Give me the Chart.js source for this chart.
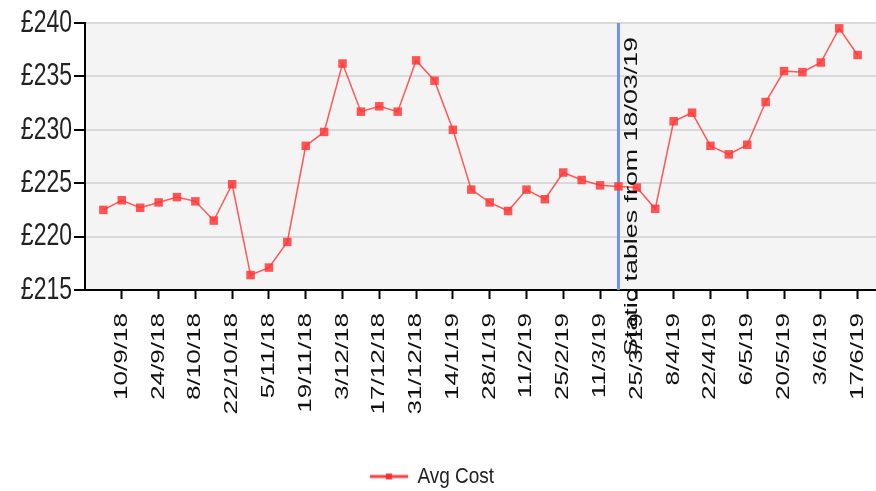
<!DOCTYPE html>
<html>
<head>
<meta charset="utf-8">
<script src="https://cdn.jsdelivr.net/npm/chart.js@4/dist/chart.umd.min.js"></script>
<style>
html,body{margin:0;padding:0;background:#fff;}
#wrap{width:876px;height:491px;position:relative;}
</style>
</head>
<body>
<div id="wrap"><canvas id="c" width="876" height="491"></canvas></div>
<script>
const weeks = ['3/9/18','10/9/18','17/9/18','24/9/18','1/10/18','8/10/18','15/10/18','22/10/18','29/10/18','5/11/18',
  '12/11/18','19/11/18','26/11/18','3/12/18','10/12/18','17/12/18','24/12/18','31/12/18','7/1/19','14/1/19',
  '21/1/19','28/1/19','4/2/19','11/2/19','18/2/19','25/2/19','4/3/19','11/3/19','18/3/19','25/3/19',
  '1/4/19','8/4/19','15/4/19','22/4/19','29/4/19','6/5/19','13/5/19','20/5/19','27/5/19','3/6/19',
  '10/6/19','17/6/19'];
const avgCost = [222.5,223.4,222.7,223.2,223.7,223.3,221.5,224.9,216.4,217.1,
  219.5,228.5,229.8,236.2,231.7,232.2,231.7,236.5,234.6,230.0,
  224.4,223.2,222.4,224.4,223.5,226.0,225.3,224.8,224.7,224.6,
  222.6,230.8,231.6,228.5,227.7,228.6,232.6,235.5,235.4,236.3,
  239.5,237.0];
const yTicks = [215,220,225,230,235,240];
const seriesName = 'Avg Cost';
const markerLabel = 'Static tables from 18/03/19';
const markerIndex = 28;

const RED = '#ff4646';
const FONT = '"Liberation Sans", Arial, sans-serif';

// legend marker: line with a small square
const legendMark = document.createElement('canvas');
legendMark.width = 38; legendMark.height = 10;
(function(){
  const g = legendMark.getContext('2d');
  g.fillStyle = 'rgba(255,40,40,0.9)';
  g.fillRect(0, 3.5, 38, 3);
  g.fillRect(16, 2, 6, 6);
})();

// draw text stretched (the reference's text is stretched vertically)
function stretchText(ctx, kx, ky, fn) {
  const orig = CanvasRenderingContext2D.prototype.fillText;
  ctx.fillText = function (t, x, y) {
    this.save();
    this.translate(x, y);
    this.scale(kx, ky);
    orig.call(this, t, 0, 0);
    this.restore();
  };
  try { fn(); } finally { delete ctx.fillText; }
}

const stretchPlugin = {
  id: 'stretch',
  beforeDraw(chart) {
    const ctx = chart.ctx;
    const y = chart.scales.y, x = chart.scales.x, lg = chart.legend;
    if (!y._wrapped) {
      const o = y.drawLabels.bind(y);
      y.drawLabels = (a) => stretchText(ctx, 1, 1.4, () => o(a));
      y._wrapped = true;
    }
    if (!x._wrapped) {
      const o = x.drawLabels.bind(x);
      x.drawLabels = (a) => stretchText(ctx, 1.45, 1, () => o(a));
      x._wrapped = true;
    }
    if (lg && !lg._wrapped) {
      const o = lg.draw.bind(lg);
      lg.draw = (a) => {
        ctx.save();
        ctx.translate(-6, 0);
        stretchText(ctx, 1, 1.15, () => o(a));
        ctx.restore();
      };
      lg._wrapped = true;
    }
  }
};

const bgPlugin = {
  id: 'bg',
  beforeDraw(chart) {
    const {ctx, chartArea: a} = chart;
    ctx.save();
    ctx.fillStyle = '#f4f4f4';
    ctx.fillRect(a.left, a.top, a.right - a.left, a.bottom - a.top);
    ctx.restore();
  }
};
const markerPlugin = {
  id: 'marker',
  beforeDatasetsDraw(chart) {
    const {ctx, chartArea: a, scales} = chart;
    const x = scales.x.getPixelForValue(markerIndex);
    ctx.save();
    ctx.strokeStyle = '#6a98e6';
    ctx.lineWidth = 3;
    ctx.beginPath();
    ctx.moveTo(x, a.top);
    ctx.lineTo(x, a.bottom);
    ctx.stroke();
    ctx.restore();
  },
  afterDraw(chart) {
    const {ctx, chartArea: a, scales} = chart;
    const x = scales.x.getPixelForValue(markerIndex);
    ctx.save();
    ctx.font = '18px ' + FONT;
    const w = ctx.measureText(markerLabel).width;
    const startY = a.bottom + 66, endY = a.top + 14;
    const k = (startY - endY) / w;
    ctx.translate(x + 14, startY);
    ctx.rotate(-Math.PI / 2);
    ctx.scale(k, 1);
    ctx.fillStyle = '#111';
    ctx.textAlign = 'left';
    ctx.textBaseline = 'middle';
    ctx.fillText(markerLabel, 0, 0);
    ctx.restore();
  }
};

new Chart(document.getElementById('c'), {
  type: 'line',
  data: {
    datasets: [{
      label: seriesName,
      data: avgCost.map((v, i) => ({x: i, y: v})),
      borderColor: 'rgba(255,70,70,0.9)',
      borderWidth: 1.5,
      pointStyle: 'rect',
      pointRadius: 6,
      pointHoverRadius: 6,
      pointBackgroundColor: 'rgba(255,55,55,0.85)',
      pointBorderWidth: 0,
      tension: 0
    }]
  },
  options: {
    responsive: false,
    animation: false,
    layout: {autoPadding: false, padding: {top: 23, right: 0, bottom: -5, left: 0}},
    plugins: {
      tooltip: {enabled: false},
      legend: {
        position: 'bottom',
        labels: {
          usePointStyle: true,
          pointStyleWidth: 38,
          padding: 10,
          color: '#222',
          font: {family: FONT, size: 19},
          generateLabels: () => [{
            text: seriesName, pointStyle: legendMark, fillStyle: RED, strokeStyle: RED,
            lineWidth: 0, hidden: false, datasetIndex: 0, fontColor: '#222'
          }]
        }
      }
    },
    scales: {
      x: {
        type: 'linear',
        min: -1,
        max: 42,
        afterBuildTicks: (s) => { s.ticks = weeks.map((w, i) => i).filter(i => i % 2 === 1).map(v => ({value: v})); },
        afterFit: (s) => { s.height = 167; s.paddingLeft = 0; s.paddingRight = 0; },
        grid: {drawOnChartArea: false, tickColor: '#000', tickLength: 9, tickWidth: 2},
        border: {display: true, color: '#000', width: 2},
        ticks: {
          autoSkip: false, maxRotation: 90, minRotation: 90, padding: 14,
          color: '#111',
          font: {family: FONT, size: 18},
          callback: (v) => weeks[v] ?? ''
        }
      },
      y: {
        min: 215,
        max: 240,
        afterBuildTicks: (s) => { s.ticks = yTicks.map(v => ({value: v})); },
        afterFit: (s) => { s.width = 85; },
        grid: {color: '#d9d9d9', lineWidth: 2, tickColor: '#000', tickLength: 11, tickWidth: 2},
        border: {display: true, color: '#000', width: 2},
        ticks: {
          padding: 2,
          color: '#222',
          font: {family: FONT, size: 23},
          callback: (v) => '£' + v
        }
      }
    }
  },
  plugins: [stretchPlugin, bgPlugin, markerPlugin]
});
</script>
</body>
</html>
